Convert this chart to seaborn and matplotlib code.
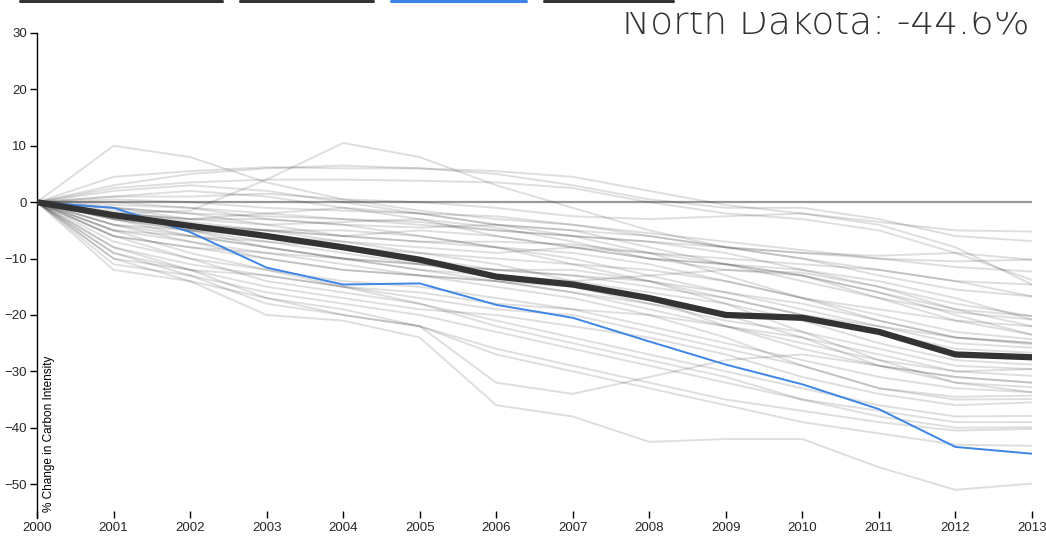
import pandas as pd
import matplotlib
matplotlib.use("Agg")
import matplotlib.pyplot as plt
from matplotlib.lines import Line2D
from matplotlib.transforms import Bbox
import seaborn as sns

# years on the x axis
years = list(range(2000, 2014))

# national average (thick dark line)
average = [0, -2.3, -4.2, -6.0, -8.0, -10.2, -13.2, -14.6, -17.0, -20.0, -20.5, -23.0, -27.0, -27.5]

# highlighted state
highlight_name = "North Dakota"
highlight = [0, -1.0, -5.3, -11.6, -14.6, -14.4, -18.2, -20.5, -24.7, -28.8, -32.3, -36.7, -43.4, -44.6]

# every other state (light grey lines), % change since 2000
states = [
    [0, 10, 8, 3.5, 0.5, -1.5, -3, -4, -5.5, -7, -8.5, -10, -11.5, -12.3],
    [0, -2, -1.5, 4, 10.5, 8, 3, -1, -5, -8, -9, -10, -10.5, -10.2],
    [0, 4.5, 5.5, 6.2, 6, 6, 5.5, 4.5, 2, -0.5, -2, -3.5, -5, -5.2],
    [0, 3, 5, 6, 6.5, 6, 5, 3, 0.5, -1, -1, -3, -6, -6.9],
    [0, 2.5, 3.5, 4, 4, 3.8, 3.5, 2.5, 0, -2, -3, -5, -9, -13.8],
    [0, 1, 1, 1.5, 0.5, 0, -1, -2.5, -3, -2.5, -2, -4, -8, -14.6],
    [0, 0.5, 0, -1, -1.5, -2, -2.5, -4, -6, -8, -10, -13, -15.5, -16.7],
    [0, -1, -2, -2.5, -3, -3.5, -5, -6, -7, -9, -12, -15, -18, -20.2],
    [0, -0.5, -1, -3, -4, -4.5, -4, -5, -8, -11, -14, -17, -19.5, -20.8],
    [0, -2, -3, -4, -3.5, -3, -4.5, -7, -10, -12, -12.5, -15, -19, -22],
    [0, -1.5, -3.5, -5, -6, -5, -6, -8, -10, -11, -13, -17, -21, -23.5],
    [0, -3, -5, -6, -7, -8, -9, -8, -9, -13, -17, -20, -23, -24.3],
    [0, -2, -4, -6, -8, -9, -10, -11, -12, -14, -17, -21, -24, -24.9],
    [0, -1, -2, -4, -6, -7, -8, -10, -13, -16, -18, -21, -24, -25.2],
    [0, -4, -6, -7, -8, -10, -12, -13, -14, -16, -19, -22, -25, -25.8],
    [0, -3, -5, -7, -9, -11, -12, -13, -15, -17, -20, -23, -26, -26.7],
    [0, -2, -4, -5, -7, -9, -11, -14, -16, -18, -21, -25, -28, -28.8],
    [0, -5, -7, -9, -10, -11, -13, -15, -18, -21, -23, -26, -29, -29.6],
    [0, -6, -8, -9, -11, -13, -15, -17, -20, -22, -24, -27, -30, -30.8],
    [0, -4, -7, -10, -12, -13, -14, -15, -17, -22, -26, -29, -31, -32],
    [0, -3, -6, -8, -10, -12, -14, -16, -18, -20, -24, -29, -32, -32.8],
    [0, -7, -10, -12, -14, -15, -17, -19, -22, -25, -28, -31, -33, -33.7],
    [0, -8, -11, -13, -15, -16, -18, -19, -20, -24, -29, -33, -34.5, -34.3],
    [0, -5, -9, -12, -15, -17, -19, -20, -23, -26, -29, -33, -35, -34.9],
    [0, -9, -12, -15, -17, -19, -20, -22, -24, -27, -31, -34, -36, -35.5],
    [0, -10, -12, -13, -15, -18, -21, -24, -27, -30, -33, -36, -38, -37.9],
    [0, -6, -10, -14, -16, -18, -22, -25, -28, -31, -35, -37, -39, -39],
    [0, -11, -13, -16, -18, -20, -23, -26, -29, -32, -35, -38, -40, -39.9],
    [0, -8, -12, -17, -20, -22, -26, -29, -32, -35, -37, -39, -40.5, -40.2],
    [0, -12, -14, -17, -19, -22, -27, -30, -33, -36, -39, -41, -43, -43.2],
    [0, -9, -13, -18, -20, -22, -32, -34, -31, -28, -27, -29, -31, -32],
    [0, -10, -14, -20, -21, -24, -36, -38, -42.5, -42, -42, -47, -51, -49.9],
    [0, -1, -3, -2, -1, -2, -4, -6, -9, -10, -11, -12, -14, -16.7],
    [0, 1, 2, 1, -1, -3, -6, -8, -10, -11, -12, -14, -17, -20.8],
    [0, -2, -3, -3, -4, -6, -8, -9, -11, -14, -17, -19, -21, -22],
    [0, -3, -4, -5, -6, -7, -7, -7.5, -9, -11, -13, -16, -20, -23.5],
    [0, -4, -5, -5, -5, -6, -8, -11, -14, -17, -20, -22, -24, -25],
    [0, 0, -1, -2, -3, -4, -5, -6, -7, -8, -9, -9.5, -9, -10.2],
    [0, -5, -6, -8, -10, -12, -13, -14, -13, -12, -13, -16, -19, -20.2],
    [0, -6, -8, -10, -12, -13, -14, -16, -19, -22, -25, -28, -30, -29.6],
    [0, -2, -5, -8, -10, -11, -12, -12, -14, -18, -23, -28, -32, -33.7],
    [0, 2, 3, 2, 0, -2, -4, -5, -6, -8, -10, -12, -14, -14.6],
]

y_ticks = [-50, -40, -30, -20, -10, 0, 10, 20, 30]

rows = []
for i, s in enumerate(states):
    for yr, v in zip(years, s):
        rows.append({"state": i, "year": yr, "value": v})
df = pd.DataFrame(rows)

sns.set_style("white")
plt.rcParams["font.family"] = ["Liberation Sans", "DejaVu Sans"]

W, H = 1046, 537
fig = plt.figure(figsize=(W / 100, H / 100), dpi=100)
ax = fig.add_axes([37 / W, 1 - 518 / H, (1032 - 37) / W, (518 - 33) / H])

ax.axhline(0, color="#999999", lw=1.6, zorder=1)

sns.lineplot(data=df, x="year", y="value", units="state", estimator=None,
             color="black", alpha=0.13, lw=1.4, ax=ax, zorder=2)
sns.lineplot(x=years, y=highlight, color="#3d85e6", lw=1.4, ax=ax, zorder=3)
sns.lineplot(x=years, y=average, color="#333333", lw=4.5, ax=ax, zorder=4)

ax.set_xlim(2000, 2013)
ax.set_ylim(-56, 30)
ax.set_xticks(years)
ax.set_yticks(y_ticks)
ax.set_xlabel("")
ax.set_ylabel("")

for side in ["top", "right", "bottom"]:
    ax.spines[side].set_visible(False)
ax.spines["left"].set_color("black")
ax.spines["left"].set_linewidth(1)

ax.tick_params(axis="y", direction="out", length=5, width=1, color="black",
               labelsize=9.5, pad=2, left=True)
ax.tick_params(axis="x", direction="in", length=5, width=1, color="black",
               labelsize=9.5, pad=3, bottom=True)

ax.text(0.006, 0.012, "% Change in Carbon Intensity", transform=ax.transAxes,
        rotation=90, ha="left", va="bottom", fontsize=8.5, color="black")

# big label, its top is hidden behind the header as in the original page
last = highlight[-1]
title = fig.text(1030 / W, 1 - 34 / H, f"{highlight_name}: {last:.1f}%",
                 ha="right", va="baseline", fontsize=27, color="#333333",
                 family=["DejaVu Sans"], weight="light")
title.set_clip_box(Bbox.from_extents(0, 0, W, H - 12))
title.set_clip_on(True)

# tab underlines at the very top
for x0, x1, c in [(20, 222, "#333333"), (240, 373, "#333333"),
                  (391, 526, "#3d85e6"), (544, 673, "#333333")]:
    fig.add_artist(Line2D([x0 / W, x1 / W], [1 - 1 / H, 1 - 1 / H],
                          color=c, lw=2.2, transform=fig.transFigure))

fig.savefig("out.png", dpi=100)
